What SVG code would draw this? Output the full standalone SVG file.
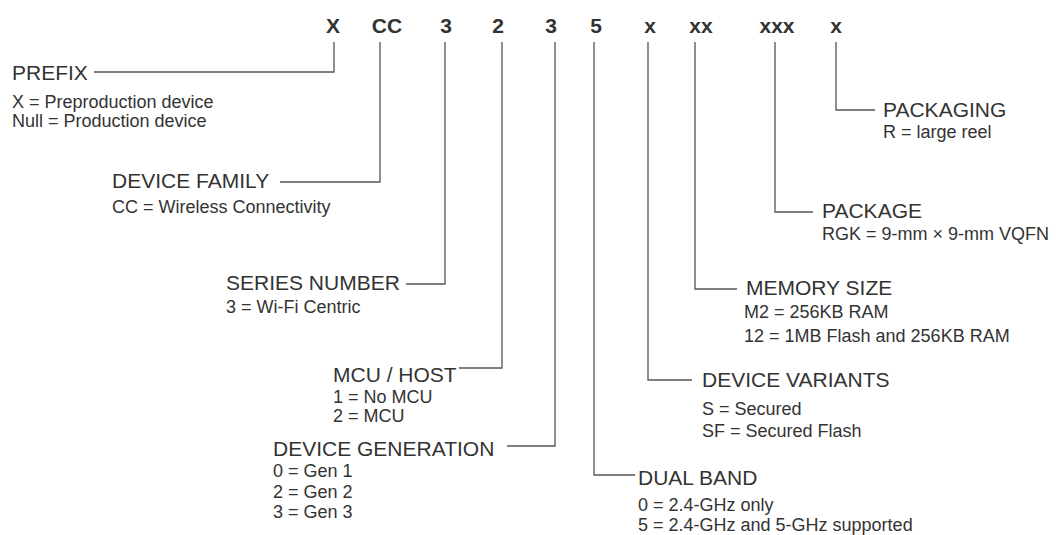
<svg xmlns="http://www.w3.org/2000/svg" width="1057" height="535" viewBox="0 0 1057 535">
<style>
.code{font-family:"Liberation Sans",Arial,sans-serif;font-weight:bold;font-size:21px;fill:#333;text-anchor:middle}
.ttl{font-family:"Liberation Sans",Arial,sans-serif;font-size:21px;fill:#333}
.sub{font-family:"Liberation Sans",Arial,sans-serif;font-size:18px;fill:#333}
.conn{fill:none;stroke:#555;stroke-width:1.3}
</style>
<rect width="1057" height="535" fill="#fff"/>
<g id="code">
<text class="code" x="333" y="33">X</text>
<text class="code" x="387" y="33">CC</text>
<text class="code" x="446" y="33">3</text>
<text class="code" x="498" y="33">2</text>
<text class="code" x="551" y="33">3</text>
<text class="code" x="596" y="33">5</text>
<text class="code" x="650" y="33">x</text>
<text class="code" x="701" y="33">xx</text>
<text class="code" x="777" y="33">xxx</text>
<text class="code" x="836" y="33">x</text>
</g>
<g id="connectors">
<path class="conn" d="M334 42V72H94"/>
<path class="conn" d="M380 42V182H280"/>
<path class="conn" d="M445 42V284H406"/>
<path class="conn" d="M502 42V368H459"/>
<path class="conn" d="M555 42V446H507"/>
<path class="conn" d="M594 42V475H635"/>
<path class="conn" d="M648 42V380H692"/>
<path class="conn" d="M695 42V289H737"/>
<path class="conn" d="M775 42V212H813"/>
<path class="conn" d="M836 42V110H875"/>
</g>
<g id="prefix">
<text class="ttl" x="12" y="80">PREFIX</text>
<text class="sub" x="12" y="108">X = Preproduction device</text>
<text class="sub" x="12" y="127">Null = Production device</text>
</g>
<g id="device-family">
<text class="ttl" x="112" y="188">DEVICE FAMILY</text>
<text class="sub" x="112" y="213">CC = Wireless Connectivity</text>
</g>
<g id="series-number">
<text class="ttl" x="226" y="290">SERIES NUMBER</text>
<text class="sub" x="226" y="313">3 = Wi-Fi Centric</text>
</g>
<g id="mcu-host">
<text class="ttl" x="333" y="382">MCU / HOST</text>
<text class="sub" x="333" y="403">1 = No MCU</text>
<text class="sub" x="333" y="422">2 = MCU</text>
</g>
<g id="device-generation">
<text class="ttl" x="273" y="456">DEVICE GENERATION</text>
<text class="sub" x="273" y="477">0 = Gen 1</text>
<text class="sub" x="273" y="498">2 = Gen 2</text>
<text class="sub" x="273" y="518">3 = Gen 3</text>
</g>
<g id="dual-band">
<text class="ttl" x="638" y="485">DUAL BAND</text>
<text class="sub" x="638" y="511">0 = 2.4-GHz only</text>
<text class="sub" x="638" y="531">5 = 2.4-GHz and 5-GHz supported</text>
</g>
<g id="device-variants">
<text class="ttl" x="702" y="387">DEVICE VARIANTS</text>
<text class="sub" x="702" y="415">S = Secured</text>
<text class="sub" x="702" y="437">SF = Secured Flash</text>
</g>
<g id="memory-size">
<text class="ttl" x="746" y="295">MEMORY SIZE</text>
<text class="sub" x="744" y="318">M2 = 256KB RAM</text>
<text class="sub" x="744" y="342">12 = 1MB Flash and 256KB RAM</text>
</g>
<g id="package">
<text class="ttl" x="822" y="218">PACKAGE</text>
<text class="sub" x="822" y="240">RGK = 9-mm × 9-mm VQFN</text>
</g>
<g id="packaging">
<text class="ttl" x="883" y="117">PACKAGING</text>
<text class="sub" x="883" y="138">R = large reel</text>
</g>
</svg>
